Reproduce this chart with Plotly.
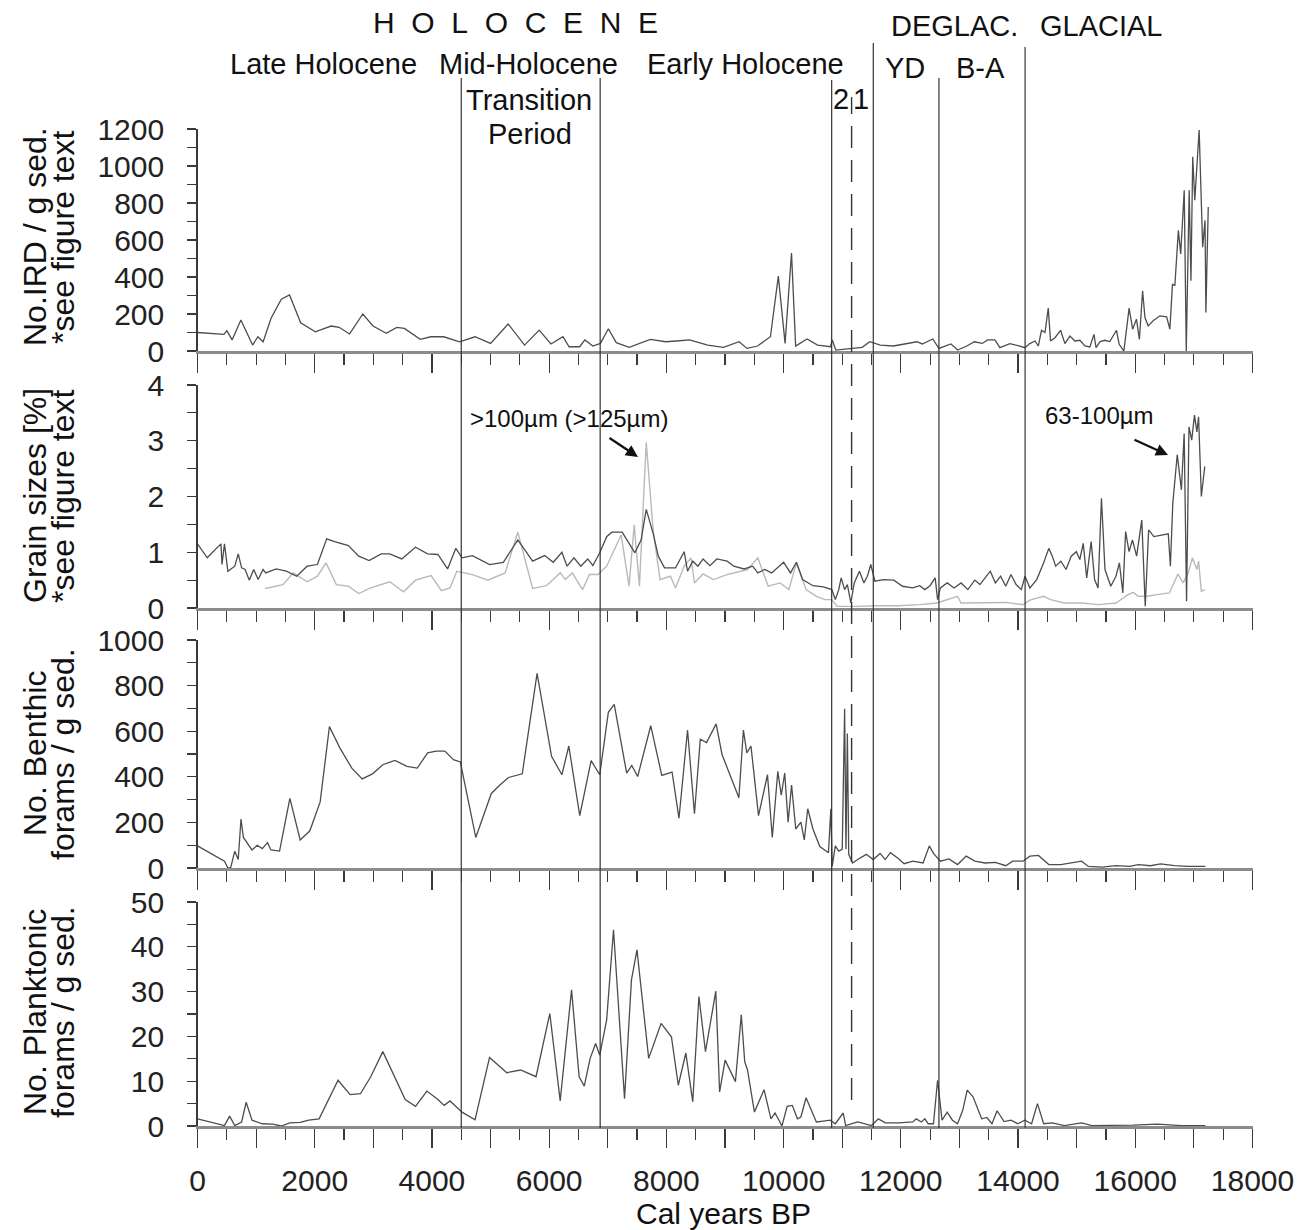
import plotly.graph_objects as go

# ---------------- data ----------------
# Panel 1: IRD (No. / g sed.)
ird_age = [0, 230, 450, 500, 590, 740, 940, 1030, 1120, 1255,
           1430, 1570, 1760, 2010, 2280, 2415, 2595, 2820, 2995, 3220,
           3400, 3530, 3800, 3980, 4200, 4470, 4735, 5000, 5300, 5580,
           5830, 6030, 6235, 6340, 6520, 6610, 6745, 6875, 7010, 7145,
           7365, 7725, 7990, 8170, 8395, 8705, 8975, 9240, 9375, 9555,
           9775, 9910, 10025, 10135, 10205, 10400, 10580, 10800, 10830, 10890,
           11115, 11340, 11470, 11650, 11875, 12095, 12275, 12365, 12545, 12650,
           12855, 12970, 13125, 13255, 13390, 13480, 13605, 13690, 13860, 14030,
           14117, 14200, 14290, 14345, 14400, 14460, 14515, 14555, 14630, 14725,
           14800, 14885, 14970, 15055, 15140, 15225, 15295, 15330, 15400, 15480,
           15565, 15680, 15725, 15805, 15895, 15955, 16020, 16070, 16125, 16165,
           16220, 16305, 16420, 16535, 16590, 16635, 16675, 16735, 16775, 16835,
           16870, 16920, 16950, 16980, 17015, 17090, 17115, 17150, 17190, 17205,
           17245]
ird_val = [100, 95, 90, 110, 60, 168, 32, 77, 50, 177,
           280, 303, 153, 104, 135, 128, 92, 200, 135, 96,
           128, 122, 63, 77, 77, 50, 77, 41, 146, 32,
           113, 38, 77, 23, 23, 60, 27, 41, 120, 45,
           20, 63, 50, 54, 60, 32, 20, 50, 14, 27,
           77, 405, 41, 530, 27, 65, 32, 23, 60, 5,
           14, 20, 50, 32, 27, 41, 50, 38, 65, 14,
           38, 5, 27, 50, 41, 60, 60, 18, 40, 27,
           18, 40, 54, 27, 112, 100, 232, 54, 72, 112,
           40, 81, 54, 58, 27, 22, 90, 18, 51, 58,
           51, 112, 36, 0, 232, 118, 172, 63, 326, 181,
           136, 163, 190, 185, 118, 362, 353, 652, 525, 869,
           0, 869, 380, 1050, 815, 1195, 887, 561, 706, 208,
           778]

# Panel 2: grain sizes [%], dark = 63-100 um, light = >100 um (>125 um)
grain_dark_age = [0, 165, 400, 418, 460, 518, 636, 695, 753, 812,
                  883, 959, 1035, 1118, 1165, 1341, 1517, 1693, 1870, 2046,
                  2204, 2340, 2575, 2751, 2927, 3133, 3280, 3485, 3720, 3926,
                  4102, 4267, 4408, 4513, 4690, 4807, 4983, 5218, 5465, 5718,
                  5923, 6070, 6217, 6305, 6423, 6540, 6658, 6746, 6863, 6981,
                  7069, 7245, 7363, 7463, 7568, 7656, 7774, 7862, 7968, 8156,
                  8303, 8361, 8450, 8538, 8626, 8743, 8861, 9037, 9149, 9325,
                  9472, 9560, 9678, 9795, 10001, 10118, 10218, 10324, 10500, 10677,
                  10823, 10882, 10941, 10982, 11041, 11088, 11147, 11205, 11294, 11370,
                  11429, 11487, 11558, 11705, 11881, 12028, 12204, 12322, 12410, 12498,
                  12586, 12627, 12674, 12792, 12909, 13027, 13144, 13262, 13350, 13438,
                  13526, 13614, 13702, 13790, 13879, 13967, 14055, 14119, 14202, 14319,
                  14437, 14525, 14584, 14642, 14730, 14819, 14907, 14995, 15054, 15112,
                  15171, 15247, 15306, 15365, 15423, 15483, 15582, 15670, 15729, 15788,
                  15835, 15894, 15952, 16023, 16070, 16111, 16170, 16228, 16317, 16463,
                  16563, 16599, 16640, 16716, 16787, 16834, 16875, 16916, 16963, 17010,
                  17051, 17080, 17127, 17186]
grain_dark_val = [1.15, 0.90, 1.15, 0.78, 1.15, 0.66, 0.75, 0.97, 0.72, 0.69,
                  0.50, 0.69, 0.51, 0.69, 0.63, 0.70, 0.66, 0.57, 0.75, 0.78,
                  1.24, 1.19, 1.12, 0.93, 0.85, 0.97, 0.97, 0.88, 1.09, 0.97,
                  0.96, 0.70, 1.07, 0.90, 0.94, 0.87, 0.78, 0.82, 1.22, 0.84,
                  0.94, 0.82, 1.00, 0.75, 0.90, 0.75, 0.88, 0.76, 0.99, 1.28,
                  1.36, 1.36, 1.16, 0.99, 1.22, 1.77, 1.34, 0.93, 0.72, 0.72,
                  1.01, 0.66, 0.84, 0.75, 0.88, 0.76, 0.88, 0.84, 0.75, 0.70,
                  0.75, 0.63, 0.69, 0.63, 0.82, 0.63, 0.82, 0.51, 0.40, 0.38,
                  0.33, 0.15, 0.33, 0.54, 0.33, 0.42, 0.09, 0.45, 0.66, 0.45,
                  0.57, 0.78, 0.48, 0.51, 0.50, 0.39, 0.36, 0.40, 0.33, 0.40,
                  0.54, 0.15, 0.36, 0.45, 0.36, 0.45, 0.33, 0.50, 0.42, 0.54,
                  0.66, 0.45, 0.57, 0.39, 0.60, 0.42, 0.33, 0.57, 0.36, 0.51,
                  0.81, 1.07, 0.93, 0.75, 0.84, 0.69, 0.93, 1.01, 0.87, 1.16,
                  0.54, 1.19, 0.51, 0.36, 1.97, 0.69, 0.39, 0.57, 0.81, 0.27,
                  1.37, 1.01, 1.22, 0.93, 1.28, 1.58, 0.03, 1.40, 1.28, 1.31,
                  1.33, 0.75, 1.88, 2.75, 2.12, 3.13, 0.12, 3.25, 3.01, 3.46,
                  3.16, 3.43, 2.00, 2.54]
grain_light_age = [1153, 1458, 1634, 1870, 2046, 2193, 2369, 2575, 2751, 2956,
                   3280, 3515, 3720, 3985, 4161, 4308, 4425, 4690, 4954, 5248,
                   5465, 5718, 5953, 6188, 6276, 6393, 6570, 6687, 6834, 6981,
                   7228, 7363, 7451, 7540, 7656, 7774, 7891, 8068, 8156, 8303,
                   8420, 8479, 8626, 8802, 9037, 9149, 9384, 9560, 9737, 9942,
                   10089, 10218, 10383, 10559, 10706, 10823, 10912, 11264, 11558, 11969,
                   12322, 12616, 12968, 13027, 13379, 13790, 14084, 14202, 14437, 14554,
                   14789, 15083, 15377, 15670, 15876, 15964, 16052, 16199, 16375, 16581,
                   16728, 16816, 16904, 16975, 17051, 17080, 17127, 17186]
grain_light_val = [0.35, 0.42, 0.63, 0.47, 0.57, 0.81, 0.42, 0.39, 0.26, 0.36,
                   0.47, 0.29, 0.50, 0.58, 0.31, 0.36, 0.66, 0.60, 0.50, 0.63,
                   1.36, 0.35, 0.40, 0.63, 0.51, 0.63, 0.33, 0.60, 0.60, 0.75,
                   1.31, 0.39, 1.49, 0.39, 2.97, 1.40, 0.51, 0.57, 0.36, 0.75,
                   0.90, 0.45, 0.61, 0.51, 0.60, 0.63, 0.69, 0.90, 0.39, 0.45,
                   0.33, 0.81, 0.33, 0.21, 0.15, 0.15, 0.03, 0.03, 0.04, 0.04,
                   0.06, 0.09, 0.21, 0.09, 0.10, 0.10, 0.06, 0.14, 0.21, 0.15,
                   0.09, 0.09, 0.06, 0.09, 0.24, 0.28, 0.21, 0.21, 0.24, 0.27,
                   0.61, 0.45, 0.63, 0.90, 0.69, 0.84, 0.30, 0.33]

# Panel 3: benthic forams / g sed.
benthic_age = [0, 460, 518, 565, 636, 695, 742, 783, 930, 1018,
               1106, 1194, 1253, 1400, 1576, 1752, 1917, 2093, 2251, 2428,
               2633, 2810, 2986, 3162, 3368, 3573, 3750, 3926, 4073, 4220,
               4367, 4484, 4748, 5013, 5159, 5306, 5541, 5794, 6041, 6217,
               6335, 6522, 6716, 6863, 7010, 7110, 7322, 7410, 7510, 7733,
               7921, 8097, 8215, 8361, 8479, 8579, 8685, 8849, 8949, 9084,
               9237, 9314, 9372, 9443, 9572, 9725, 9807, 9901, 9960, 10019,
               10077, 10136, 10207, 10295, 10353, 10412, 10500, 10618, 10765, 10806,
               10829, 10882, 10941, 11000, 11041, 11064, 11088, 11111, 11176, 11264,
               11411, 11529, 11646, 11734, 11822, 11940, 12057, 12204, 12380, 12486,
               12557, 12674, 12821, 12968, 13115, 13262, 13438, 13614, 13790, 13908,
               14084, 14202, 14348, 14525, 14730, 15083, 15200, 15436, 15670, 15905,
               16052, 16258, 16434, 16669, 16904, 17198]
benthic_val = [97, 30, 0, 0, 74, 37, 215, 134, 79, 100,
               85, 111, 79, 74, 305, 123, 163, 290, 620, 527,
               438, 391, 413, 453, 472, 446, 438, 505, 513, 513,
               475, 465, 134, 327, 364, 397, 413, 854, 490, 409,
               535, 230, 471, 409, 683, 718, 416, 450, 401, 624,
               406, 421, 218, 605, 238, 565, 550, 632, 498, 409,
               308, 605, 505, 535, 230, 409, 134, 424, 319, 416,
               201, 364, 171, 201, 123, 260, 171, 94, 67, 260,
               7, 97, 74, 82, 698, 82, 590, 60, 22, 37,
               60, 37, 64, 37, 67, 45, 19, 30, 22, 97,
               64, 30, 40, 15, 52, 30, 22, 25, 10, 30,
               30, 52, 55, 15, 15, 30, 7, 4, 10, 7,
               15, 10, 18, 10, 7, 7]

# Panel 4: planktonic forams / g sed.
plankt_age = [0, 460, 548, 636, 753, 830, 930, 1106, 1282, 1429,
              1576, 1752, 1899, 2075, 2398, 2604, 2780, 2956, 3162, 3368,
              3544, 3720, 3914, 4102, 4208, 4308, 4513, 4736, 4983, 5277,
              5512, 5776, 6011, 6188, 6382, 6511, 6599, 6699, 6793, 6863,
              6981, 7098, 7286, 7404, 7498, 7698, 7909, 8086, 8203, 8332,
              8450, 8555, 8667, 8843, 8908, 9002, 9178, 9278, 9337, 9384,
              9502, 9666, 9784, 9854, 9972, 10060, 10148, 10236, 10295, 10383,
              10559, 10677, 10794, 10882, 11017, 11059, 11147, 11264, 11499, 11617,
              11734, 11969, 12204, 12263, 12351, 12410, 12468, 12557, 12627, 12703,
              12791, 12880, 12968, 13056, 13132, 13232, 13379, 13467, 13555, 13643,
              13761, 13879, 13996, 14114, 14231, 14331, 14437, 14584, 14789, 15083,
              15259, 15670, 15964, 16375, 16787, 17198]
plankt_val = [1.6, 0.1, 2.2, 0.1, 0.9, 5.3, 1.3, 0.5, 0.4, 0.0,
              0.7, 0.8, 1.3, 1.6, 10.2, 7.0, 7.2, 11.0, 16.6, 11.0,
              5.9, 4.4, 7.8, 5.9, 4.6, 5.6, 3.1, 1.4, 15.3, 11.9,
              12.5, 11.0, 25.1, 5.6, 30.4, 11.0, 8.9, 15.1, 18.4, 15.8,
              23.7, 43.8, 6.1, 32.6, 39.3, 15.1, 22.9, 19.9, 9.1, 16.3,
              5.4, 28.9, 16.6, 30.1, 7.6, 14.7, 9.9, 24.8, 14.3, 12.5,
              3.1, 8.1, 1.6, 2.9, 0.0, 4.4, 4.6, 1.6, 2.0, 6.3,
              0.9, 1.1, 1.3, 0.5, 2.9, 0.1, 0.5, 0.9, 0.1, 1.6,
              0.7, 0.7, 0.9, 1.6, 0.9, 1.6, 0.5, 0.5, 10.2, 1.3,
              3.1, 1.3, 0.5, 3.5, 8.0, 6.5, 1.6, 1.9, 0.5, 3.4,
              1.0, 1.3, 0.5, 1.3, 0.5, 5.0, 0.5, 0.7, 0.1, 0.7,
              0.1, 0.1, 0.2, 0.4, 0.1, 0.1]

# Period boundaries (cal years BP)
boundary_age = [4500, 6870, 10820, 11530, 12650, 14120]
dashed_age = [11160]

x_tick_vals = list(range(0, 18001, 1000))
x_tick_text = [str(v) if v % 2000 == 0 else "" for v in x_tick_vals]

# ---------------- layout helpers ----------------
W, H = 1307, 1230


def fx(p):
    return p / W


def fy(p):
    return 1 - p / H


FONT = "Liberation Sans, Arial, Helvetica, sans-serif"
DARK = "#4d4d4d"
LIGHT = "#b9b9b9"
AX = "#3a3a3a"

fig = go.Figure()
fig.add_trace(go.Scatter(x=ird_age, y=ird_val, mode="lines",
                         line=dict(color=DARK, width=1.3), xaxis="x", yaxis="y"))
fig.add_trace(go.Scatter(x=grain_light_age, y=grain_light_val, mode="lines",
                         line=dict(color=LIGHT, width=1.4), xaxis="x2", yaxis="y2"))
fig.add_trace(go.Scatter(x=grain_dark_age, y=grain_dark_val, mode="lines",
                         line=dict(color=DARK, width=1.3), xaxis="x2", yaxis="y2"))
fig.add_trace(go.Scatter(x=benthic_age, y=benthic_val, mode="lines",
                         line=dict(color=DARK, width=1.3), xaxis="x3", yaxis="y3"))
fig.add_trace(go.Scatter(x=plankt_age, y=plankt_val, mode="lines",
                         line=dict(color=DARK, width=1.3), xaxis="x4", yaxis="y4"))

# panel pixel extents (top, bottom)
panels = [(129, 351), (385, 608), (640, 868), (902, 1126)]
yranges = [[0, 1200], [0, 4], [0, 1000], [0, 50]]
ydticks = [200, 1, 200, 10]
yminor = [100, 0.5, 100, 5]

xdom = [fx(197.5), fx(1252.5)]
layout = dict(
    width=W, height=H,
    margin=dict(l=0, r=0, t=0, b=0, autoexpand=False),
    paper_bgcolor="white", plot_bgcolor="white",
    showlegend=False,
    font=dict(family=FONT, color="#222"),
)
for i, ((top, bot), yr, dt, mn) in enumerate(zip(panels, yranges, ydticks, yminor)):
    k = "" if i == 0 else str(i + 1)
    layout["xaxis" + k] = dict(
        domain=xdom, range=[0, 18000], anchor="y" + k, automargin=False,
        showline=True, linecolor="#8c8c8c", linewidth=2.5,
        ticks="outside", tickvals=x_tick_vals,
        ticktext=x_tick_text, ticklen=19, tickwidth=1.2, tickcolor=AX,
        minor=dict(ticks="outside", dtick=500, tick0=0, ticklen=11,
                   tickwidth=1.2, tickcolor=AX),
        showticklabels=(i == 3), showgrid=False, zeroline=False,
        tickfont=dict(size=30, family=FONT, color="#222"),
        ticklabelstandoff=7,
    )
    layout["yaxis" + k] = dict(
        domain=[fy(bot), fy(top)], range=yr, anchor="x" + k, automargin=False,
        showline=True, linecolor=AX, linewidth=1.3,
        ticks="outside", dtick=dt, tick0=0, ticklen=9, tickwidth=1.2, tickcolor=AX,
        minor=dict(ticks="outside", dtick=mn, tick0=0, ticklen=9,
                   tickwidth=1.2, tickcolor=AX),
        showgrid=False, zeroline=False,
        tickfont=dict(size=30, family=FONT, color="#222"),
        ticklabelstandoff=17,
    )
fig.update_layout(**layout)

# ---------------- period lines ----------------
line_tops = [78, 78, 80, 43, 78, 47]
shapes = []
for a, t in zip(boundary_age, line_tops):
    shapes.append(dict(type="line", xref="x4", yref="paper", x0=a, x1=a,
                       y0=fy(1128), y1=fy(t), line=dict(color="#333", width=1.2)))
for a in dashed_age:
    shapes.append(dict(type="line", xref="x4", yref="paper", x0=a, x1=a,
                       y0=fy(1100), y1=fy(97),
                       line=dict(color="#333", width=1.4, dash="22px,12px")))
fig.update_layout(shapes=shapes)

# ---------------- annotations ----------------
ann = []


def text(s, x, y, size=29, angle=0, **kw):
    ann.append(dict(text=s, x=fx(x), y=fy(y), xref="paper", yref="paper",
                    showarrow=False, textangle=angle, xanchor="center",
                    yanchor="middle", font=dict(size=size, family=FONT, color="#111"), **kw))


sp = "\u00a0\u00a0"
text(sp.join("HOLOCENE"), 515, 22, size=30)
text("DEGLAC.", 954, 26)
text("GLACIAL", 1101, 26)
text("Late Holocene", 323, 64)
text("Mid-Holocene", 528, 64)
text("Early Holocene", 745, 64)
text("YD", 905, 68)
text("B-A", 980, 68)
text("Transition", 529, 100)
text("Period", 530, 134)
text("2", 841, 99)
text("1", 861, 99)

# y-axis titles (two lines each)
titles = [("No.IRD / g sed.", "*see figure text", 237),
          ("Grain sizes [%]", "*see figure text", 496),
          ("No. Benthic", "forams / g sed.", 754),
          ("No. Planktonic", "forams / g sed.", 1012)]
for l1, l2, yc in titles:
    text(l1, 35, yc, size=32, angle=-90)
    text(l2, 63, yc, size=32, angle=-90)

text("Cal years BP", 723, 1213, size=30)

# grain-size callouts
text(">100\u00b5m (>125\u00b5m)", 569, 418, size=24)
text("63-100\u00b5m", 1099, 416, size=24)
for (hx, hy, tx, ty) in [(638, 457, 608, 437), (1168, 455, 1133, 439)]:
    ann.append(dict(x=fx(hx), y=fy(hy), xref="paper", yref="paper",
                    ax=tx - hx, ay=ty - hy, axref="pixel", ayref="pixel",
                    text="", showarrow=True, arrowhead=2, arrowsize=1.1,
                    arrowwidth=2.2, arrowcolor="#111"))
fig.update_layout(annotations=ann)

fig.write_html("out.html",
               config={"displayModeBar": False, "staticPlot": True},
               post_script="document.body.style.margin='0';document.body.style.padding='0';")
